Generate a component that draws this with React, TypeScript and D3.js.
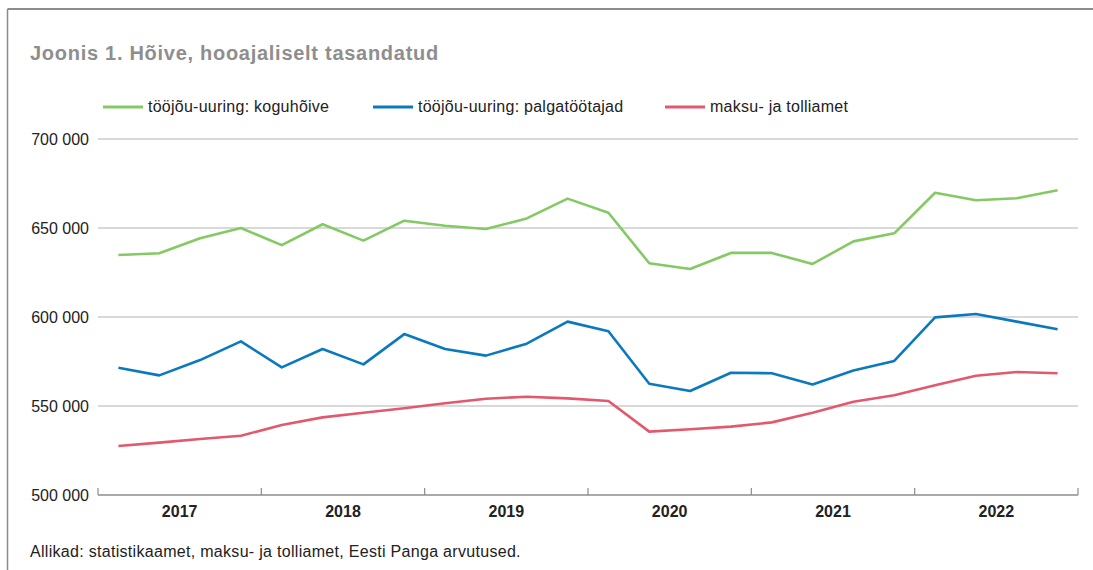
import React from "react";
import * as d3 from "d3";

const years = ["2017", "2018", "2019", "2020", "2021", "2022"];
const yTicks = [500000, 550000, 600000, 650000, 700000];

const koguhoive = [
  634.8, 635.8, 644.2, 650.0, 640.4, 652.1, 642.9, 654.1, 651.3, 649.4, 655.4, 666.5,
  658.6, 630.2, 627.0, 636.0, 636.0, 629.8, 642.5, 647.0, 669.8, 665.6, 666.7, 671.2,
].map((v) => v * 1000);

const palgatootajad = [
  571.5, 567.2, 575.8, 586.3, 571.7, 582.0, 573.4, 590.4, 582.0, 578.3, 585.0, 597.4,
  592.0, 562.5, 558.4, 568.7, 568.4, 562.1, 570.0, 575.3, 599.8, 601.7, 597.4, 593.1,
].map((v) => v * 1000);

const maksuTolliamet = [
  527.5, 529.4, 531.5, 533.3, 539.3, 543.6, 546.2, 548.7, 551.5, 554.1, 555.2, 554.3,
  552.8, 535.6, 536.9, 538.4, 540.8, 546.2, 552.4, 556.0, 561.6, 567.0, 569.1, 568.4,
].map((v) => v * 1000);

const seriesNames = [
  "tööjõu-uuring: koguhõive",
  "tööjõu-uuring: palgatöötajad",
  "maksu- ja tolliamet",
];
const seriesColors = ["#84c963", "#0a79bd", "#e2596e"];
const seriesData = [koguhoive, palgatootajad, maksuTolliamet];

const FONT = "'Liberation Sans', Arial, Helvetica, sans-serif";

export default function App() {
  const width = 1093;
  const height = 570;
  const x = d3.scaleLinear().domain([0, 24]).range([98, 1078]);
  const y = d3.scaleLinear().domain([500000, 700000]).range([495, 139]);
  const line = d3
    .line<number>()
    .x((_, i) => x(i + 0.5))
    .y((d) => y(d));

  const fmt = (v: number) => d3.format(",")(v).replace(/,/g, " ");

  const legendX = [103, 373, 665];

  return (
    <svg
      width={width}
      height={height}
      style={{ position: "absolute", left: 0, top: 0, display: "block" }}
      fontFamily={FONT}
    >
      <rect x={0} y={0} width={width} height={height} fill="#fff" />
      <line x1={7.5} x2={width} y1={9} y2={9} stroke="#8c8c8c" strokeWidth={2} />
      <line x1={7.5} x2={7.5} y1={9} y2={height} stroke="#8c8c8c" strokeWidth={1.5} />
      <text x={30} y={60} fontSize={20} letterSpacing={0.72} fontWeight="bold" fill="#8e8e8e">
        Joonis 1. Hõive, hooajaliselt tasandatud
      </text>

      {seriesNames.map((name, i) => (
        <g key={name}>
          <line
            x1={legendX[i]}
            x2={legendX[i] + 40}
            y1={107}
            y2={107}
            stroke={seriesColors[i]}
            strokeWidth={3}
          />
          <text x={legendX[i] + 45} y={112} fontSize={16} letterSpacing={0.25} fill="#222">
            {name}
          </text>
        </g>
      ))}

      {yTicks.map((t) => (
        <g key={t}>
          {t > 500000 && (
            <line x1={98} x2={1078} y1={y(t)} y2={y(t)} stroke="#b3b3b3" strokeWidth={1.2} />
          )}
          <text x={89} y={y(t) + 5.5} fontSize={16} textAnchor="end" fill="#222">
            {fmt(t)}
          </text>
        </g>
      ))}

      <line x1={98} x2={1078} y1={y(500000)} y2={y(500000)} stroke="#8c8c8c" strokeWidth={1.5} />
      {d3.range(0, 25, 4).map((q) => (
        <line
          key={q}
          x1={x(q)}
          x2={x(q)}
          y1={y(500000) - 7}
          y2={y(500000)}
          stroke="#8c8c8c"
          strokeWidth={1.2}
        />
      ))}
      {years.map((yr, i) => (
        <text
          key={yr}
          x={x(i * 4 + 2)}
          y={517}
          fontSize={16}
          fontWeight="bold"
          textAnchor="middle"
          fill="#222"
        >
          {yr}
        </text>
      ))}

      {seriesData.map((d, i) => (
        <path
          key={i}
          d={line(d) || ""}
          fill="none"
          stroke={seriesColors[i]}
          strokeWidth={2.6}
          strokeLinejoin="round"
        />
      ))}

      <text x={30} y={557} fontSize={16} letterSpacing={0.3} fill="#222">
        Allikad: statistikaamet, maksu- ja tolliamet, Eesti Panga arvutused.
      </text>
    </svg>
  );
}
